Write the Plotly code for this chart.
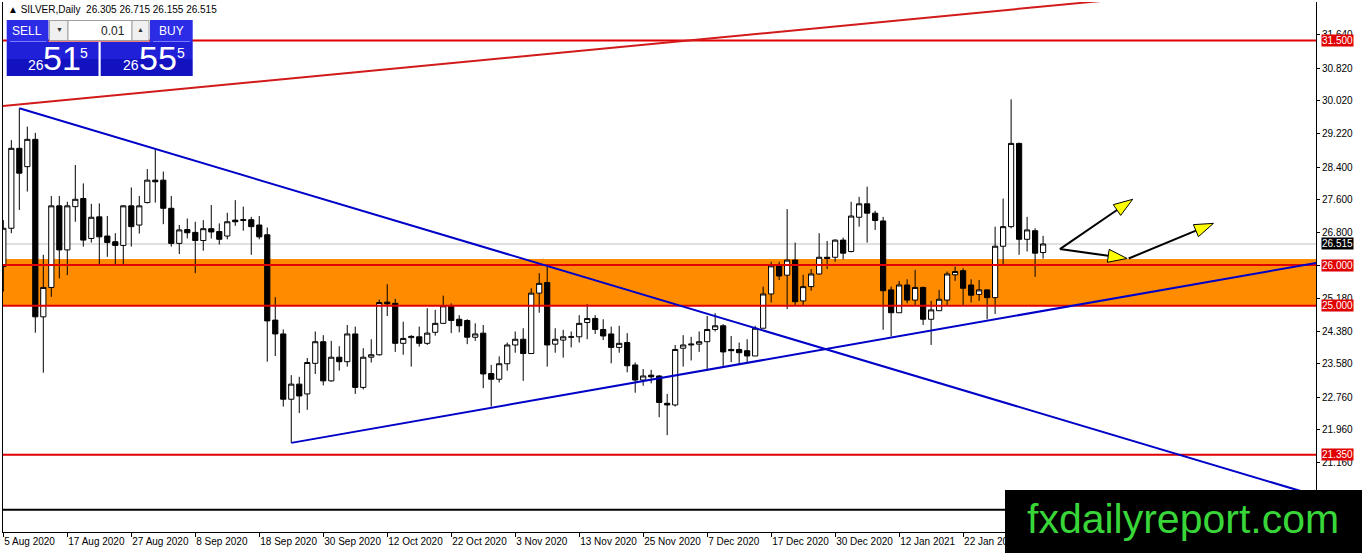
import numpy as np
import pandas as pd
import plotly.graph_objects as go

# daily bars, weekdays 5 Aug 2020 - 5 Feb 2021 (no bar on 25 Dec / 1 Jan)
days = pd.bdate_range("2020-08-05", "2021-02-05")
days = days[~days.isin(pd.to_datetime(["2020-12-25", "2021-01-01"]))]

opens = [25.96, 26.90, 28.86, 28.41, 29.08, 24.73, 25.45, 27.45, 26.37, 27.43,
         27.63, 26.65, 27.18, 26.71, 26.57, 26.48, 27.45, 26.98, 27.53, 28.08,
         28.08, 27.39, 26.53, 26.87, 26.80, 26.60, 26.89, 26.82, 26.71, 27.10,
         27.09, 27.11, 26.98, 26.74, 24.65, 24.31, 22.71, 23.08, 22.84, 23.59,
         24.12, 23.16, 23.74, 23.63, 24.31, 23.00, 23.74, 23.80, 25.09, 25.06,
         24.08, 24.22, 24.24, 24.08, 24.35, 24.57, 25.00, 24.67, 24.64, 24.23,
         24.33, 23.34, 23.20, 23.58, 24.04, 24.18, 23.83, 25.31, 25.57, 24.06,
         24.16, 24.23, 24.24, 24.59, 24.69, 24.42, 24.31, 23.98, 24.10, 23.55,
         23.18, 23.30, 23.28, 22.61, 22.57, 23.96, 24.04, 24.06, 24.12, 24.42,
         24.51, 23.93, 23.93, 23.90, 23.77, 24.45, 25.29, 25.98, 25.75, 26.12,
         25.12, 25.47, 25.78, 26.19, 26.19, 26.61, 26.33, 27.17, 27.50, 27.27,
         27.08, 25.39, 24.83, 25.51, 25.14, 25.45, 24.67, 24.88, 25.14, 25.76,
         25.86, 25.51, 25.28, 25.39, 25.20, 26.46, 26.94, 28.98, 26.63, 26.84,
         26.305]
highs = [27.10, 29.06, 29.84, 29.39, 29.24, 26.25, 27.69, 27.69, 27.55, 28.45,
         28.00, 27.50, 27.51, 27.20, 26.78, 27.47, 27.90, 27.69, 28.35, 28.86,
         28.29, 27.69, 26.98, 27.14, 27.06, 27.10, 27.47, 27.02, 27.28, 27.59,
         27.43, 27.18, 27.20, 26.92, 25.21, 24.42, 23.30, 23.26, 23.72, 24.37,
         24.28, 24.14, 24.01, 24.53, 24.49, 23.96, 24.18, 25.15, 25.53, 25.17,
         24.61, 24.28, 24.49, 24.94, 24.90, 25.25, 25.06, 24.77, 24.67, 24.57,
         24.53, 23.55, 23.76, 24.10, 24.37, 24.45, 25.43, 25.80, 25.95, 24.45,
         24.41, 24.37, 24.77, 25.04, 24.77, 24.67, 24.49, 24.51, 24.33, 23.61,
         23.45, 23.43, 23.30, 22.84, 24.04, 24.28, 24.24, 24.37, 24.75, 24.82,
         24.55, 24.26, 24.10, 24.18, 24.51, 25.47, 26.08, 26.08, 27.37, 26.55,
         25.76, 25.90, 26.78, 26.59, 26.63, 26.67, 27.55, 27.67, 27.92, 27.33,
         27.18, 25.47, 25.61, 25.65, 25.88, 25.47, 25.12, 25.39, 25.84, 25.96,
         25.92, 25.65, 25.63, 25.41, 26.94, 27.63, 30.06, 29.00, 27.18, 26.90,
         26.715]
lows = [25.35, 26.78, 27.35, 27.80, 24.34, 23.36, 25.22, 25.67, 25.75, 27.06,
        26.45, 26.55, 26.02, 26.20, 26.02, 26.02, 26.45, 26.77, 27.51, 27.53,
        27.00, 26.45, 26.27, 26.65, 25.80, 26.35, 26.65, 26.50, 26.63, 26.96,
        26.84, 26.25, 26.63, 23.63, 23.77, 22.53, 21.64, 22.37, 22.45, 23.33,
        23.05, 23.14, 23.41, 23.51, 22.84, 22.95, 23.61, 23.78, 24.75, 23.87,
        23.80, 23.51, 24.00, 24.04, 24.27, 24.56, 24.33, 24.35, 24.06, 24.14,
        22.98, 22.53, 23.12, 23.41, 23.85, 23.16, 23.83, 24.83, 23.51, 23.85,
        23.73, 23.98, 24.10, 24.18, 24.31, 24.16, 23.59, 23.85, 23.37, 22.87,
        23.04, 23.10, 22.27, 21.83, 22.53, 23.51, 23.66, 23.87, 23.41, 24.37,
        23.51, 23.62, 23.57, 23.61, 23.77, 24.45, 25.08, 25.63, 24.92, 25.02,
        25.02, 25.37, 25.76, 25.90, 26.08, 26.14, 26.31, 26.94, 26.55, 26.86,
        24.41, 24.25, 24.83, 25.06, 25.02, 24.53, 24.04, 24.88, 25.02, 25.61,
        25.02, 25.08, 25.12, 24.67, 24.80, 26.02, 26.90, 26.25, 26.33, 25.71,
        26.155]
closes = [26.90, 28.86, 28.25, 29.08, 24.73, 25.45, 27.45, 26.37, 27.45, 27.61,
          26.61, 27.17, 26.69, 26.55, 26.48, 27.45, 26.94, 27.45, 28.08, 28.04,
          27.39, 26.53, 26.86, 26.79, 26.60, 26.89, 26.81, 26.63, 27.06, 27.06,
          27.11, 26.94, 26.69, 24.63, 24.31, 22.71, 23.08, 22.79, 23.61, 24.12,
          23.16, 23.74, 23.63, 24.31, 23.00, 23.74, 23.80, 25.08, 25.05, 24.08,
          24.20, 24.25, 24.08, 24.33, 24.57, 25.00, 24.64, 24.51, 24.23, 24.31,
          23.33, 23.20, 23.58, 24.04, 24.18, 23.83, 25.31, 25.55, 24.04, 24.18,
          24.24, 24.24, 24.57, 24.69, 24.42, 24.26, 23.98, 24.08, 23.53, 23.18,
          23.28, 23.26, 22.63, 22.57, 23.93, 24.04, 24.06, 24.12, 24.42, 24.51,
          23.87, 23.90, 23.85, 23.77, 24.45, 25.29, 25.98, 25.73, 26.12, 25.10,
          25.47, 25.78, 26.19, 26.16, 26.61, 26.29, 27.20, 27.50, 27.27, 27.09,
          25.37, 24.83, 25.51, 25.14, 25.45, 24.67, 24.90, 25.16, 25.78, 25.84,
          25.43, 25.26, 25.39, 25.20, 26.46, 26.94, 28.98, 26.63, 26.86, 26.29,
          26.515]

# price scale labels on the right
price_ticks = [31.64, 30.82, 30.02, 29.22, 28.40, 27.60, 26.80, 25.98, 25.18,
               24.38, 23.58, 22.76, 21.96, 21.16, 20.36]

# chart objects
red_levels = [31.50, 26.00, 25.00, 21.35]
zone = [25.00, 26.15]
bid = 26.515
black_level = 20.00
red_trend = [(0, 29.90), (134, 32.41)]     # (bar, price) anchors
blue_down = [(2, 29.84), (85, 24.98)]
blue_up = [(36, 21.64), (131, 24.91)]
arrows = [((132.1, 26.39), (141.2, 27.61)),
          ((132.1, 26.39), (140.5, 26.16)),
          ((140.7, 26.16), (151.3, 27.02))]

W, H = 1362, 553
ML, MR, MT, MB = 3, 46, 2, 21
XR = [-0.04, 164.12]
YR = [19.456, 32.446]
SX = (W - ML - MR) / (XR[1] - XR[0])
SY = (H - MT - MB) / (YR[1] - YR[0])


def px(x):
    return (x - ML) / (W - ML - MR)


def py(y):
    return 1 - (y - MT) / (H - MT - MB)


def ray(a, b, x_end):
    slope = (b[1] - a[1]) / (b[0] - a[0])
    return a[1] + slope * (x_end - a[0])


n = len(closes)
xs = list(range(n))

fig = go.Figure()

fig.add_trace(go.Candlestick(
    x=xs, open=opens, high=highs, low=lows, close=closes,
    increasing=dict(line=dict(color="black", width=1), fillcolor="white"),
    decreasing=dict(line=dict(color="black", width=1), fillcolor="black"),
    whiskerwidth=0, showlegend=False, hoverinfo="x+y"
))

# arrows: black shaft, yellow head
for (x0, y0), (x1, y1) in arrows:
    dx, dy = (x1 - x0) * SX, (y1 - y0) * SY
    ln = np.hypot(dx, dy)
    ux, uy = dx / ln, dy / ln
    bx, by = x1 - 19 * ux / SX, y1 - 19 * uy / SY
    hx = [x1, bx - 6.5 * uy / SX, bx + 6.5 * uy / SX, x1]
    hy = [y1, by + 6.5 * ux / SY, by - 6.5 * ux / SY, y1]
    fig.add_trace(go.Scatter(x=[x0, bx], y=[y0, by], mode="lines",
                             line=dict(color="black", width=2),
                             showlegend=False, hoverinfo="skip"))
    fig.add_trace(go.Scatter(x=hx, y=hy, mode="lines", fill="toself",
                             fillcolor="#ffff00", line=dict(color="black", width=1),
                             showlegend=False, hoverinfo="skip"))

shapes = []
# support zone and bid line in background
shapes.append(dict(type="rect", xref="paper", yref="y", x0=0, x1=1,
                   y0=zone[0], y1=zone[1], fillcolor="#ff8c00",
                   line=dict(width=0), layer="below"))
shapes.append(dict(type="line", xref="paper", yref="y", x0=0, x1=1,
                   y0=bid, y1=bid, line=dict(color="#c0c0c0", width=1), layer="below"))
for lv in red_levels:
    shapes.append(dict(type="line", xref="paper", yref="y", x0=0, x1=1,
                       y0=lv, y1=lv, line=dict(color="#e00000", width=2), layer="above"))
shapes.append(dict(type="line", xref="paper", yref="y", x0=0, x1=1,
                   y0=black_level, y1=black_level,
                   line=dict(color="black", width=2), layer="above"))

# trend lines
shapes.append(dict(type="line", xref="x", yref="y", x0=-2, x1=170,
                   y0=ray(*red_trend, -2), y1=ray(*red_trend, 170),
                   line=dict(color="#d21a1a", width=2), layer="above"))
shapes.append(dict(type="line", xref="x", yref="y", x0=blue_down[0][0], x1=170,
                   y0=blue_down[0][1], y1=ray(*blue_down, 170),
                   line=dict(color="#0000c8", width=2), layer="above"))
shapes.append(dict(type="line", xref="x", yref="y", x0=blue_up[0][0], x1=170,
                   y0=blue_up[0][1], y1=ray(*blue_up, 170),
                   line=dict(color="#0000c8", width=2), layer="above"))


def box(x0, y0, x1, y1, fill, edge=None):
    shapes.append(dict(type="rect", xref="paper", yref="paper",
                       x0=px(x0), x1=px(x1), y0=py(y1), y1=py(y0),
                       fillcolor=fill, layer="above",
                       line=dict(width=1 if edge else 0, color=edge or fill)))


# one-click trading panel
box(6.7, 20, 48.5, 42, "#2c2ce6")
box(150, 20, 192.7, 42, "#2c2ce6")
box(6.7, 42, 98.5, 59, "#2020d8")
box(6.7, 59, 98.5, 76, "#1212c0")
box(100.7, 42, 192.7, 59, "#2020d8")
box(100.7, 59, 192.7, 76, "#1212c0")
box(49.5, 20.5, 68, 40.5, "#f0f0f0", "#a0a0a0")
box(68, 20.5, 132, 40.5, "#ffffff", "#a0a0a0")
box(132, 20.5, 149, 40.5, "#f0f0f0", "#a0a0a0")
for a, b in [(10, 46.5), (153, 190)]:
    shapes.append(dict(type="line", xref="paper", yref="paper",
                       x0=px(a), x1=px(b), y0=py(41.5), y1=py(41.5),
                       line=dict(color="#7a7aff", width=1), layer="above"))

# watermark box
shapes.append(dict(type="rect", xref="paper", yref="paper",
                   x0=px(1005), x1=px(1370), y0=py(560), y1=py(490),
                   fillcolor="black", line=dict(width=0), layer="above"))

annotations = []


def label(x, y, text, size, color="white", anchor="center"):
    annotations.append(dict(xref="paper", yref="paper", x=px(x), y=py(y),
                            text=text, showarrow=False, xanchor=anchor,
                            yanchor="middle",
                            font=dict(family="Liberation Sans", size=size, color=color)))


label(6, 10, "▲ SILVER,Daily  26.305 26.715 26.155 26.515", 10, "black", "left")
label(27.5, 31, "SELL", 12)
label(171, 31, "BUY", 12)
label(113, 31, "0.01", 12, "#222222")
label(59, 30, "▼", 7, "#333333")
label(140, 30, "▲", 7, "#333333")
label(35.5, 65, "26", 14)
label(62, 58, "51", 34)
label(84, 53, "5", 14)
label(131, 65, "26", 14)
label(158, 58, "55", 34)
label(181, 53, "5", 14)
label(1183, 519, "fxdailyreport.com", 41, "#39d639")

# price boxes on the right axis
for lv, bg in [(v, "#e00000") for v in red_levels] + [(bid, "black")]:
    annotations.append(dict(xref="paper", yref="y", x=1, y=lv, xanchor="left",
                            xshift=5, text=f"{lv:.3f}", showarrow=False,
                            bgcolor=bg, borderpad=0,
                            font=dict(family="Liberation Sans", size=10, color="white")))

tick_idx = list(range(0, n, 8))
fig.update_layout(
    width=W, height=H,
    margin=dict(l=ML, r=MR, t=MT, b=MB),
    paper_bgcolor="white", plot_bgcolor="white",
    font=dict(family="Liberation Sans", size=10, color="black"),
    showlegend=False,
    boxgap=0.35, boxgroupgap=0,
    shapes=shapes, annotations=annotations,
    xaxis=dict(range=XR, tickvals=tick_idx,
               ticktext=[days[i].strftime("%-d %b %Y") for i in tick_idx],
               ticklabelposition="outside right", tickangle=0,
               ticks="outside", ticklen=4, tickcolor="black",
               showline=True, linecolor="black", linewidth=1,
               showgrid=False, zeroline=False,
               rangeslider=dict(visible=False)),
    yaxis=dict(range=YR, side="right", tickvals=price_ticks, tickformat=".3f",
               ticks="outside", ticklen=3, tickcolor="black",
               showline=True, mirror=True, linecolor="black", linewidth=1,
               showgrid=False, zeroline=False),
)

# the page body has a default margin; drop it so the chart sits at the window corner
fig.write_html("out.html", config={"displayModeBar": False},
               post_script="document.body.style.margin='0';")
